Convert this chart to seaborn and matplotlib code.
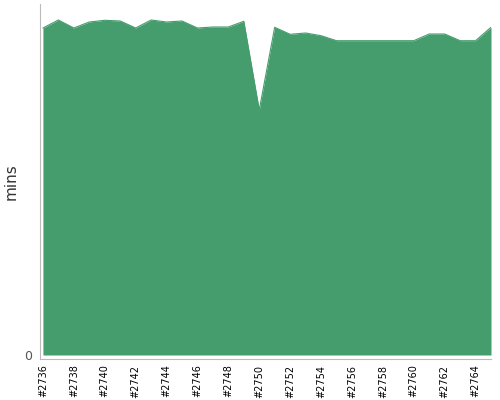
import matplotlib
matplotlib.use("Agg")
import matplotlib.pyplot as plt
import seaborn as sns
import pandas as pd
from matplotlib.ticker import FixedLocator

builds = [f"#{n}" for n in range(2736, 2766)]
mins = [327, 335, 327, 333, 334.7, 334, 327, 335, 333, 334,
        327, 328, 328, 333.7, 245, 327.7, 320.7, 322, 319.3, 314.3,
        314.3, 314.3, 314.3, 314.3, 314.3, 321, 321, 314.3, 314.3, 327.7]

df = pd.DataFrame({"build": builds, "mins": mins, "idx": range(len(builds))})

sns.set_style("white")
plt.rcParams['font.family'] = ['DejaVu Sans']

color = "#459c6d"
fig = plt.figure(figsize=(5, 4), dpi=100)
ax = fig.add_axes([40/500, 41/400, 451/500, 355/400])

sns.lineplot(data=df, x="idx", y="mins", ax=ax, color=color, linewidth=0.8)
ax.fill_between(df["idx"], 0, df["mins"], color=color, linewidth=0)

ax.set_xlim(-0.19, 29)
ax.set_ylim(-4, 351)
ax.set_xticks(range(0, 30, 2))
ax.set_xticklabels(builds[::2], rotation=90, fontsize=7, color="black")
ax.xaxis.set_minor_locator(FixedLocator(range(1, 30, 2)))
ax.set_yticks([0])
ax.set_yticklabels(["0"], fontsize=9, color="#555555")
ax.tick_params(axis="x", which="both", length=3, color="#bbbbbb", width=0.8, pad=1)
ax.tick_params(axis="y", length=3, color="#bbbbbb", width=0.8, pad=3)
ax.set_xlabel("")
ax.set_ylabel("mins", fontsize=11, color="#333333")
ax.yaxis.set_label_coords(-0.047, 0.5)

for s in ["top", "right"]:
    ax.spines[s].set_visible(False)
for s in ["left", "bottom"]:
    ax.spines[s].set_color("#bbbbbb")
    ax.spines[s].set_linewidth(0.8)

fig.savefig("out.png", dpi=100)
